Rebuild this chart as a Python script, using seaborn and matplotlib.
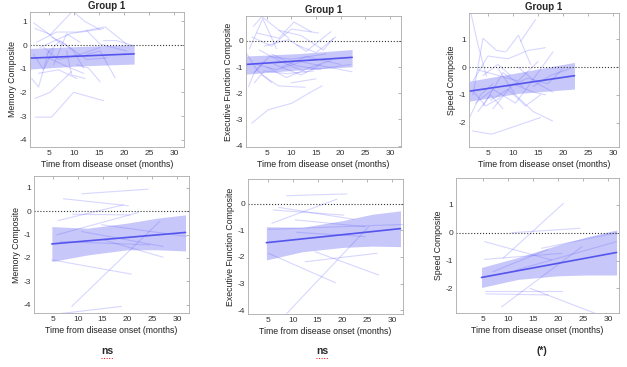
import numpy as np
import pandas as pd
import seaborn as sns
import matplotlib.pyplot as plt
from matplotlib.lines import Line2D

# individual subjects: list of visits (months from onset, composite score)
mem_g1 = [
    [(1.9, 0.94), (5.2, 0.43), (9.5, 1.39)],
    [(10.2, 1.35), (12.2, 0.99), (15.2, 0.65)],
    [(2.2, 0.7), (4.9, 0.48), (7.9, -0.03)],
    [(2.5, 0.12), (6.5, 0.55), (11.5, 0.55), (15.9, 0.7)],
    [(3.2, -0.1), (9.2, 0.48), (16.2, 0.77), (20.5, 0.04)],
    [(5.9, -0.83), (8.5, 0.48), (11.2, 0.12)],
    [(1.5, -1.41), (2.9, -1.77), (5.0, -0.2)],
    [(2.2, -2.25), (5.2, -1.99), (9.5, -1.12)],
    [(2.2, -3.04), (5.5, -3.04), (9.9, -1.99), (15.9, -2.35)],
    [(8.5, -0.25), (9.5, -1.26), (12.2, -1.41)],
    [(10.5, -0.83), (12.9, -0.97), (15.2, -1.55)],
    [(12.5, -0.39), (15.2, -0.25), (18.2, -1.38)],
    [(4.5, -0.39), (7.2, 0.19), (9.9, -0.25), (11.9, -0.97)],
    [(1.9, -0.39), (3.9, -1.04), (5.9, -0.17)],
    [(3.9, -0.1), (6.9, -0.61), (11.2, -0.39), (15.2, -0.1)],
    [(5.5, 0.33), (8.2, 0.04), (12.5, -0.61), (16.5, -0.54)],
    [(2.9, -1.19), (6.9, -1.04), (10.5, -1.41)],
    [(15.9, 0.19), (18.5, 0.19), (21.9, -0.03)],
    [(12.5, 0.62), (15.2, 0.04), (20.5, -0.25)],
    [(4.9, -0.54), (8.5, -0.9), (11.9, -1.19)],
]
exe_g1 = [
    [(2.3, 0.55), (4.0, 0.93), (9.5, 0.1)],
    [(1.5, -0.3), (4.2, 0.85), (7.0, -0.3)],
    [(3.0, 0.3), (7.5, 0.1), (10.5, 0.72), (14.0, 0.35)],
    [(2.0, 0.15), (6.0, -0.2), (10.0, 0.45), (15.5, 0.3)],
    [(4.5, -0.2), (9.5, 0.05), (13.0, -0.4), (18.0, 0.35)],
    [(7.5, 0.4), (12.0, 0.2), (16.5, -0.35), (18.5, 0.1)],
    [(2.5, -1.2), (5.5, -0.6), (10.0, -0.7), (17.0, -0.5)],
    [(3.0, -0.9), (7.0, -1.1), (12.0, -0.8), (22.3, -1.18)],
    [(2.0, -3.14), (5.3, -2.63), (10.1, -2.38), (13.5, -2.0), (16.2, -1.72)],
    [(4.0, -1.3), (7.4, -1.72), (12.8, -1.77)],
    [(1.3, -1.75), (2.5, -1.2), (4.5, -0.8)],
    [(2.5, -1.6), (4.5, -1.15), (9.0, -1.25), (14.5, -1.15)],
    [(6.0, -0.5), (11.0, -0.95), (16.0, -1.1)],
    [(8.0, -1.0), (13.0, -0.6), (20.0, -0.9)],
    [(3.5, -0.35), (8.0, -0.8), (13.0, -1.2)],
    [(5.0, -1.0), (9.0, -1.4), (14.0, -1.0), (18.0, -0.75)],
    [(11.0, -0.15), (15.0, -0.45), (19.0, 0.15)],
    [(1.0, -0.5), (3.0, -1.1), (6.0, -1.6)],
    [(6.5, -0.9), (12.0, -1.3), (16.0, -0.9)],
    [(10.0, -1.6), (15.0, -1.45)],
    [(14.0, -1.1), (18.5, -1.0), (22.0, -0.9)],
]
spd_g1 = [
    [(1.6, 1.93), (3.0, 0.8), (4.7, -0.33)],
    [(2.0, -1.0), (4.0, 1.04), (6.7, 0.6), (8.5, 0.55)],
    [(8.7, 0.58), (11.1, 1.15), (13.5, 0.1)],
    [(11.5, 0.92), (14.5, 1.71)],
    [(1.9, -2.3), (5.7, -2.42), (15.5, -1.82)],
    [(1.3, -1.82), (3.5, -1.0), (6.0, -0.6)],
    [(2.0, -0.5), (5.0, 0.4), (9.0, 0.3), (13.0, 0.6), (16.5, 0.7)],
    [(3.0, -0.1), (7.0, -0.3), (11.0, -0.5), (15.0, 0.2)],
    [(2.5, -1.3), (6.0, -0.8), (10.5, -1.3), (13.0, -0.7), (18.0, 0.55)],
    [(4.0, -1.4), (8.0, -0.2), (12.0, -0.7)],
    [(5.5, -1.2), (9.0, -0.8), (12.5, -1.4), (15.5, -1.0)],
    [(7.0, -0.05), (10.5, -1.0), (14.0, -1.6), (17.9, -1.94)],
    [(3.0, -1.6), (5.5, -1.0), (8.0, -1.5)],
    [(9.0, -0.7), (13.0, -0.4), (17.0, -0.6), (20.0, -0.05)],
    [(6.0, -1.5), (10.0, -0.6), (14.0, -0.9), (16.5, -1.0)],
    [(2.2, -0.9), (4.5, -1.4), (7.5, -1.1)],
    [(11.0, 0.0), (15.0, -0.6), (18.0, -0.9)],
    [(14.0, -0.7), (17.5, -0.3), (21.5, -0.05)],
    [(4.0, -0.3), (7.0, 0.1), (9.5, -0.3)],
]
mem_g2 = [
    [(7.1, 0.53), (20.2, 0.23)],
    [(10.8, 0.74), (24.2, 0.94)],
    [(6.1, -0.40), (19.2, 0.27)],
    [(9.0, -0.13), (20.5, -0.16)],
    [(5.8, -1.01), (22.2, -0.06)],
    [(10.8, -0.87), (27.2, -1.51)],
    [(14.8, -0.58), (31.9, -1.08)],
    [(4.8, -2.08), (20.8, -2.69)],
    [(8.8, -4.07), (26.5, -0.44)],
    [(5.8, -4.39), (18.8, -4.07)],
    [(6.5, -1.3), (24.5, -1.44)],
    [(14.8, -1.2), (27.2, -1.97)],
]
exe_g2 = [
    [(8.8, 0.31), (20.9, 0.38)],
    [(5.8, -0.73), (18.9, 0.18)],
    [(6.1, -0.23), (20.3, -0.42)],
    [(7.2, -0.13), (22.3, -0.58)],
    [(10.5, -0.6), (24.6, -0.86)],
    [(5.1, -0.96), (32.5, -0.77)],
    [(10.8, -1.07), (24.6, -1.23)],
    [(5.1, -1.86), (18.6, -2.97)],
    [(12.5, -2.18), (27.0, -1.86)],
    [(14.5, -1.8), (27.3, -2.68)],
    [(8.8, -4.13), (25.3, -0.86)],
]
spd_g2 = [
    [(9.0, -0.92), (21.1, 1.06)],
    [(10.7, 0.0), (24.4, 0.16)],
    [(5.3, -0.32), (18.7, -0.98)],
    [(5.3, -0.96), (20.8, -0.74)],
    [(5.3, -2.09), (20.8, -2.09)],
    [(5.6, -2.2), (18.1, -2.24)],
    [(8.7, -2.67), (24.8, -0.5)],
    [(14.4, -2.0), (27.4, -2.9)],
    [(11.5, -1.35), (31.7, -0.32)],
    [(7.0, -1.4), (18.0, -0.6)],
    [(16.7, -0.56), (31.7, 0.0)],
]

# group fit (start, end) and confidence band (month, lower, upper)
mem_g1_fit = [(1.2, -0.55), (22.0, -0.37)]
mem_g1_band = [(1.2, -1.01, -0.14), (11.0, -0.88, -0.06), (22.0, -0.8, 0.02)]
exe_g1_fit = [(0.8, -0.9), (22.3, -0.63)]
exe_g1_band = [(0.8, -1.27, -0.58), (12.0, -1.1, -0.48), (22.3, -0.99, -0.33)]
spd_g1_fit = [(1.2, -0.87), (22.3, -0.31)]
spd_g1_band = [(1.2, -1.23, -0.51), (11.0, -0.95, -0.2), (22.3, -0.79, 0.17)]
mem_g2_fit = [(4.8, -1.40), (31.7, -0.91)]
mem_g2_band = [(4.8, -2.15, -0.66), (12.0, -1.87, -0.73), (20.0, -1.65, -0.51),
               (26.0, -1.65, -0.30), (31.7, -1.70, -0.16)]
exe_g2_fit = [(4.7, -1.46), (31.7, -0.93)]
exe_g2_band = [(4.7, -2.11, -0.86), (12.0, -1.80, -0.88), (20.0, -1.64, -0.63),
               (26.0, -1.59, -0.39), (31.7, -1.61, -0.26)]
spd_g2_fit = [(4.7, -1.61), (31.7, -0.71)]
spd_g2_band = [(4.7, -1.97, -1.25), (12.0, -1.68, -0.89), (20.0, -1.55, -0.44),
               (26.0, -1.52, -0.14), (31.7, -1.52, 0.10)]

x_ticks = [5, 10, 15, 20, 25, 30]
x_label = 'Time from disease onset (months)'
sig_labels = ['ns', 'ns', '(*)']

panels = [
    # lines, fit, band, ylabel, title, rect, xlim, ylim, yticks
    (mem_g1, mem_g1_fit, mem_g1_band, 'Memory Composite', 'Group 1',
     [0.048, 0.5995, 0.2456, 0.368], (1.2, 32), (-4.3, 1.4), [1, 0, -1, -2, -3, -4]),
    (exe_g1, exe_g1_fit, exe_g1_band, 'Executive Function Composite', 'Group 1',
     [0.3923, 0.5995, 0.2472, 0.357], (0.8, 32.2), (-4.05, 0.95), [0, -1, -2, -3, -4]),
    (spd_g1, spd_g1_fit, spd_g1_band, 'Speed Composite', 'Group 1',
     [0.748, 0.5995, 0.2392, 0.365], (1.2, 31.2), (-2.88, 1.95), [1, 0, -1, -2]),
    (mem_g2, mem_g2_fit, mem_g2_band, 'Memory Composite', None,
     [0.0542, 0.1471, 0.2472, 0.3733], (1.2, 32.4), (-4.35, 1.5), [1, 0, -1, -2, -3, -4]),
    (exe_g2, exe_g2_fit, exe_g2_band, 'Executive Function Composite', None,
     [0.3955, 0.1444, 0.2472, 0.3678], (1.0, 32.2), (-4.15, 0.94), [0, -1, -2, -3, -4]),
    (spd_g2, spd_g2_fit, spd_g2_band, 'Speed Composite', None,
     [0.7273, 0.1471, 0.26, 0.3678], (-0.4, 32.2), (-2.89, 1.97), [1, 0, -1, -2]),
]

sns.set_style('white')
plt.rcParams['font.family'] = ['Liberation Sans', 'DejaVu Sans']
plt.rcParams['axes.unicode_minus'] = False

fig = plt.figure(figsize=(6.27, 3.67), dpi=100)

for lines, fit, band, ylab, title, rect, xlim, ylim, yticks in panels:
    ax = fig.add_axes(rect)
    rows = []
    for i, subj in enumerate(lines):
        for m, s in subj:
            rows.append({'subject': i, 'month': m, 'score': s})
    df = pd.DataFrame(rows)
    sns.lineplot(data=df, x='month', y='score', units='subject', estimator=None,
                 sort=False, color='#6060ff', alpha=0.25, lw=0.8, legend=False, ax=ax)

    bd = pd.DataFrame(band, columns=['month', 'lo', 'hi'])
    ax.fill_between(bd['month'], bd['lo'], bd['hi'], color='#9090f5', alpha=0.5, lw=0)
    fd = pd.DataFrame(fit, columns=['month', 'score'])
    sns.lineplot(data=fd, x='month', y='score', color='#5555ee', lw=1.2, ax=ax)

    ax.axhline(0, color='#333333', ls=':', lw=0.8)
    ax.set_xlim(*xlim)
    ax.set_ylim(*ylim)
    ax.set_xticks(x_ticks)
    ax.set_yticks(yticks)
    ax.tick_params(direction='in', length=2, width=0.5, top=True, right=True,
                   labelsize=6, color='#999999', labelcolor='#333333', pad=2)
    for sp in ax.spines.values():
        sp.set_color('#aaaaaa')
        sp.set_linewidth(0.6)
    ax.set_xlabel(x_label, fontsize=6.3, labelpad=2, color='#222222')
    ax.set_ylabel(ylab, fontsize=6.3, labelpad=2, color='#222222')
    if title:
        ax.set_title(title, fontsize=7, fontweight='bold', pad=2)

# significance notes under the bottom row
for xp, lab in zip([107, 322, 542], sig_labels):
    fig.text(xp / 627, 1 - 351 / 367, lab, ha='center', va='center',
             fontsize=7.5, fontweight='bold')
    if lab == 'ns':
        fig.add_artist(Line2D([(xp - 6) / 627, (xp + 6) / 627], [1 - 358 / 367] * 2,
                              transform=fig.transFigure, color='red', ls=':', lw=0.7))

fig.savefig('out.png', dpi=100)
